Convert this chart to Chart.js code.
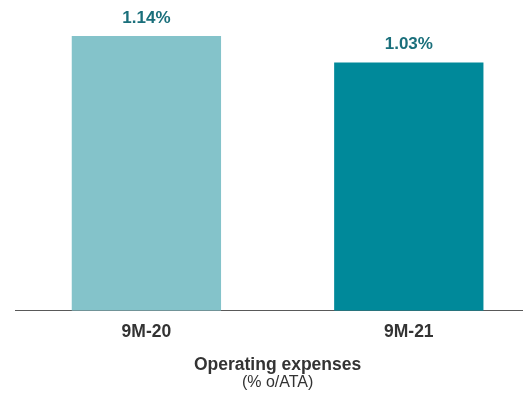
<!DOCTYPE html>
<html>
<head>
<meta charset="utf-8">
<script src="https://cdn.jsdelivr.net/npm/chart.js@4"></script>
<style>
    html, body { margin: 0; padding: 0; background: #fff; overflow: hidden; }
    #wrap { width: 540px; height: 395px; position: relative; }
</style>
</head>
<body>
<div id="wrap"><canvas id="opexChart"></canvas></div>
<script>
const categories = ['9M-20', '9M-21'];
const opexValues = [1.14, 1.03];
const barColors = ['#84c3ca', '#00899a'];
const axisTitle = 'Operating expenses';
const axisSubtitle = '(% o/ATA)';

const fontFamily = "'Liberation Sans', Arial, sans-serif";

// value labels above the bars
const valueLabels = {
    id: 'valueLabels',
    afterDatasetsDraw(chart) {
        const ctx = chart.ctx;
        const meta = chart.getDatasetMeta(0);
        ctx.save();
        ctx.font = 'bold 17px ' + fontFamily;
        ctx.fillStyle = '#1a6f7b';
        ctx.textAlign = 'center';
        ctx.textBaseline = 'alphabetic';
        meta.data.forEach((bar, i) => {
            ctx.fillText(opexValues[i].toFixed(2) + '%', bar.x, bar.y - 13.5);
        });
        ctx.restore();
    }
};

new Chart(document.getElementById('opexChart'), {
    type: 'bar',
    data: {
        labels: categories,
        datasets: [{
            data: opexValues,
            backgroundColor: barColors,
            borderWidth: 0,
            barPercentage: 0.569,
            categoryPercentage: 1
        }]
    },
    options: {
        responsive: true,
        maintainAspectRatio: false,
        animation: false,
        layout: {
            padding: { top: 21.6, left: 15.2, right: 0, bottom: 0 }
        },
        plugins: {
            legend: { display: false },
            tooltip: { enabled: false },
            subtitle: {
                display: true,
                text: axisSubtitle,
                position: 'bottom',
                color: '#333',
                font: { family: fontFamily, size: 16, weight: 'normal', lineHeight: 0.85 },
                padding: { top: 0, bottom: 5.2 }
            }
        },
        scales: {
            x: {
                grid: { display: false, drawTicks: false },
                border: { color: '#595959', width: 1 },
                ticks: {
                    color: '#333',
                    padding: 11.2,
                    font: { family: fontFamily, size: 17.5, weight: 'bold' }
                },
                title: {
                    display: true,
                    text: axisTitle,
                    color: '#333',
                    font: { family: fontFamily, size: 17.5, weight: 'bold', lineHeight: 1 },
                    padding: { top: 2.5, bottom: 2 }
                }
            },
            y: {
                display: false,
                min: 0,
                max: 1.2
            }
        }
    },
    plugins: [valueLabels]
});
</script>
</body>
</html>
